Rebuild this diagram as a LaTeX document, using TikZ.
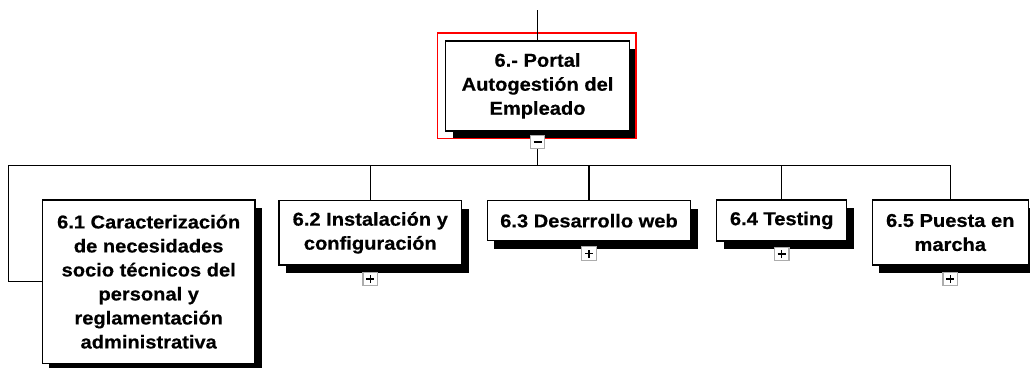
\documentclass[tikz,border=0pt]{standalone}
\usepackage{fontspec}
\setmainfont{Liberation Sans}[FakeStretch=1.08, FakeBold=0.5]
\usetikzlibrary{shadows}
\tikzset{
  wbsbox/.style={draw, line width=1.5pt, fill=white, align=center, inner sep=0pt,
    font=\bfseries\fontsize{18.6}{24}\selectfont,
    drop shadow={shadow xshift=7pt, shadow yshift=-8pt, fill=black, opacity=1}},
  selbox/.style={draw=none, fill=none, inner sep=0pt},
  selline/.style={color=red, line width=1.5pt},
  tog/.style={draw=gray!65, line width=1.4pt, fill=white, minimum width=14.5pt, minimum height=13.5pt, inner sep=0pt},
  conn/.style={line width=1.3pt},
  sign/.style={line width=1.5pt}
}
\begin{document}
\begin{tikzpicture}[x=1pt,y=-1pt]
\useasboundingbox[fill=white] (0,0) rectangle (1030,367);

% root
\node[wbsbox, minimum width=183.6pt, minimum height=89.7pt] (main) at (537.5,85.9)
  {6.- Portal\\Autogestión del\\Empleado};
% selection frame
\node[selbox, minimum width=198.3pt, minimum height=105pt] (sel) at (536.85,85.8) {};
\draw[selline] (sel.north west) rectangle (sel.south east);

% children
\node[wbsbox, minimum width=212.7pt, minimum height=163.3pt] (n1) at (148.7,281.7)
  {6.1 Caracterización\\de necesidades\\socio técnicos del\\personal y\\reglamentación\\administrativa};
\node[wbsbox, minimum width=182.7pt, minimum height=64.3pt] (n2) at (370.3,232.8)
  {6.2 Instalación y\\configuración};
\node[wbsbox, minimum width=203.4pt, minimum height=40pt] (n3) at (589,220.7)
  {6.3 Desarrollo web};
\node[wbsbox, minimum width=130pt, minimum height=40.7pt] (n4) at (781.7,220.4)
  {6.4 Testing};
\node[wbsbox, minimum width=156pt, minimum height=65pt] (n5) at (950.3,232.5)
  {6.5 Puesta en\\marcha};

% toggles
\node[tog] (t0) at (537.5,142) {};
\node[tog] (t2) at (370.3,279) {};
\node[tog] (t3) at (589,253.5) {};
\node[tog] (t4) at (781.7,254) {};
\node[tog] (t5) at (950.3,279) {};
\draw[sign] ([xshift=-4pt]t0.center) -- ([xshift=4pt]t0.center);
\foreach \t in {t2,t3,t4,t5}{
  \draw[sign] ([xshift=-4pt]\t.center) -- ([xshift=4pt]\t.center);
  \draw[sign] ([yshift=-4pt]\t.center) -- ([yshift=4pt]\t.center);
}

% connectors
\coordinate (top) at (537.5,10);
\coordinate (bus) at (537.5,165.7);
\coordinate (busL) at (8.3,165.7);
\draw[conn] (top) -- (main.north);
\draw[conn] (t0.south) -- (bus);
\draw[conn] (n1.west) -| (busL) -| (n5.north);
\draw[conn] (n2.north |- bus) -- (n2.north);
\draw[conn] (n3.north |- bus) -- (n3.north);
\draw[conn] (n4.north |- bus) -- (n4.north);
\end{tikzpicture}
\end{document}
